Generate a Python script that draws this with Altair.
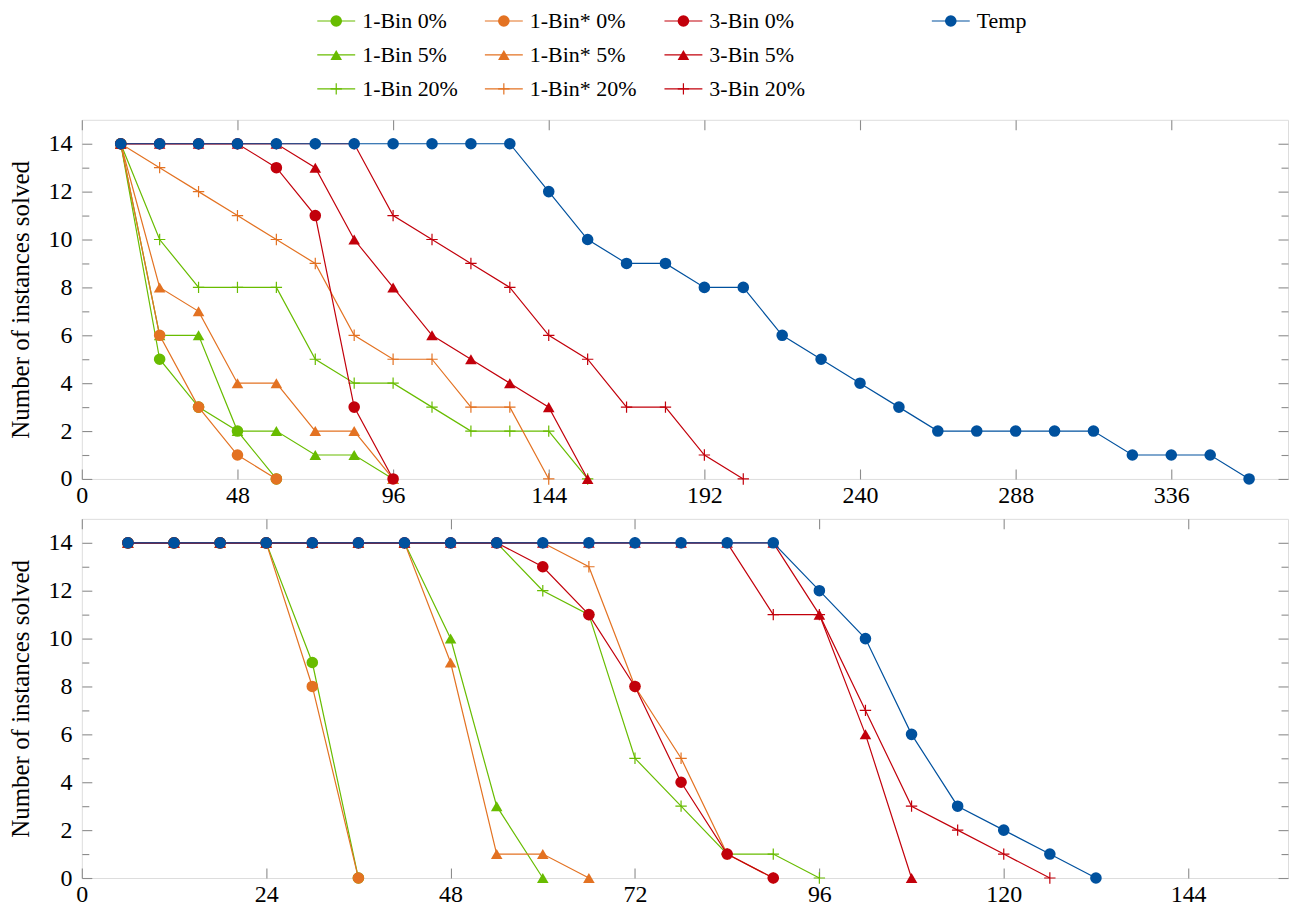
import altair as alt
import pandas as pd

# ---------------- data ----------------
SERIES = ["1-Bin 0%", "1-Bin 5%", "1-Bin 20%",
          "1-Bin* 0%", "1-Bin* 5%", "1-Bin* 20%",
          "3-Bin 0%", "3-Bin 5%", "3-Bin 20%", "Temp"]

TOP_X = [12, 24, 36, 48, 60, 72, 84, 96, 108, 120, 132, 144, 156, 168, 180,
         192, 204, 216, 228, 240, 252, 264, 276, 288, 300, 312, 324, 336, 348, 360]
BOTTOM_X = [6, 12, 18, 24, 30, 36, 42, 48, 54, 60, 66, 72, 78, 84, 90,
            96, 102, 108, 114, 120, 126, 132]

TOP_X_TICKS = [0, 48, 96, 144, 192, 240, 288, 336]
BOTTOM_X_TICKS = [0, 24, 48, 72, 96, 120, 144]
Y_MAJOR = [0, 2, 4, 6, 8, 10, 12, 14]
Y_MINOR = [1, 3, 5, 7, 9, 11, 13]

# top panel (values at TOP_X, from the first point on)
top_1bin_0 = [14, 5, 3, 2, 0]
top_1bin_5 = [14, 6, 6, 2, 2, 1, 1, 0]
top_1bin_20 = [14, 10, 8, 8, 8, 5, 4, 4, 3, 2, 2, 2, 0]
top_1bins_0 = [14, 6, 3, 1, 0]
top_1bins_5 = [14, 8, 7, 4, 4, 2, 2, 0]
top_1bins_20 = [14, 13, 12, 11, 10, 9, 6, 5, 5, 3, 3, 0]
top_3bin_0 = [14, 14, 14, 14, 13, 11, 3, 0]
top_3bin_5 = [14, 14, 14, 14, 14, 13, 10, 8, 6, 5, 4, 3, 0]
top_3bin_20 = [14, 14, 14, 14, 14, 14, 14, 11, 10, 9, 8, 6, 5, 3, 3, 1, 0]
top_temp = [14, 14, 14, 14, 14, 14, 14, 14, 14, 14, 14, 12, 10, 9, 9, 8, 8,
            6, 5, 4, 3, 2, 2, 2, 2, 2, 1, 1, 1, 0]

# bottom panel (values at BOTTOM_X, from the first point on)
bot_1bin_0 = [14, 14, 14, 14, 9, 0]
bot_1bin_5 = [14, 14, 14, 14, 14, 14, 14, 10, 3, 0]
bot_1bin_20 = [14, 14, 14, 14, 14, 14, 14, 14, 14, 12, 11, 5, 3, 1, 1, 0]
bot_1bins_0 = [14, 14, 14, 14, 8, 0]
bot_1bins_5 = [14, 14, 14, 14, 14, 14, 14, 9, 1, 1, 0]
bot_1bins_20 = [14, 14, 14, 14, 14, 14, 14, 14, 14, 14, 13, 8, 5, 1, 0]
bot_3bin_0 = [14, 14, 14, 14, 14, 14, 14, 14, 14, 13, 11, 8, 4, 1, 0]
bot_3bin_5 = [14, 14, 14, 14, 14, 14, 14, 14, 14, 14, 14, 14, 14, 14, 14, 11, 6, 0]
bot_3bin_20 = [14, 14, 14, 14, 14, 14, 14, 14, 14, 14, 14, 14, 14, 14, 11, 11, 7, 3, 2, 1, 0]
bot_temp = [14, 14, 14, 14, 14, 14, 14, 14, 14, 14, 14, 14, 14, 14, 14,
            12, 10, 6, 3, 2, 1, 0]

TOP_VALUES = dict(zip(SERIES, [top_1bin_0, top_1bin_5, top_1bin_20,
                               top_1bins_0, top_1bins_5, top_1bins_20,
                               top_3bin_0, top_3bin_5, top_3bin_20, top_temp]))
BOT_VALUES = dict(zip(SERIES, [bot_1bin_0, bot_1bin_5, bot_1bin_20,
                               bot_1bins_0, bot_1bins_5, bot_1bins_20,
                               bot_3bin_0, bot_3bin_5, bot_3bin_20, bot_temp]))

# ---------------- style ----------------
FONT = "'Liberation Serif', 'Times New Roman', Times, serif"
GREEN, ORANGE, RED, BLUE = "#68BC00", "#E37222", "#C2000B", "#00519E"
COLOR = dict(zip(SERIES, [GREEN] * 3 + [ORANGE] * 3 + [RED] * 3 + [BLUE]))
PLUS = "M-1,0H1M0,-1V1"
SHAPE = dict(zip(SERIES, ["circle", "triangle-up", PLUS] * 3 + ["circle"]))
SIZE = {"circle": 135, "triangle-up": 135, PLUS: 130}
TICK = "#8c8c8c"
W, H = 1209, 360

# legend layout (pixels inside the legend strip)
LEGEND_COL_X = [236, 404, 584, 852]
LEGEND_ROW_Y = [11, 45, 79]
LEGEND_POS = dict(zip(SERIES, [(0, 0), (0, 1), (0, 2), (1, 0), (1, 1), (1, 2),
                               (2, 0), (2, 1), (2, 2), (3, 0)]))


def axis_set(kind):
    common = dict(domain=False, grid=False, tickColor=TICK, tickWidth=1.1,
                  labelFont=FONT, labelFontSize=24, labelColor="black")
    if kind == "bottom":
        return alt.Axis(orient="bottom", offset=-10, tickSize=10, labelPadding=5,
                        labelFlush=False, labelOverlap=False, title=None, **common)
    if kind == "top":
        return alt.Axis(orient="top", offset=-10, tickSize=10, labels=False,
                        title=None, **common)
    if kind == "left_major":
        return alt.Axis(orient="left", values=Y_MAJOR, offset=-10, tickSize=10,
                        labelPadding=10, title="Number of instances solved",
                        titleFont=FONT, titleFontSize=25, titleFontWeight="normal",
                        titleColor="black", titlePadding=14, **common)
    if kind == "left_minor":
        return alt.Axis(orient="left", values=Y_MINOR, offset=-7, tickSize=7,
                        labels=False, title=None, **common)
    if kind == "right_major":
        return alt.Axis(orient="right", values=Y_MAJOR, offset=-10, tickSize=10,
                        labels=False, title=None, **common)
    return alt.Axis(orient="right", values=Y_MINOR, offset=-7, tickSize=7,
                    labels=False, title=None, **common)


def panel(xs, values, x_max, x_ticks):
    xscale = alt.Scale(domain=[0, x_max], nice=False, zero=False)
    yscale = alt.Scale(domain=[0, 15], nice=False)
    axes_plan = {0: ("bottom", "left_major"), 1: ("top", "left_minor"),
                 2: (None, "right_major"), 3: (None, "right_minor")}
    layers = []
    for i, name in enumerate(SERIES):
        ys = values[name]
        df = pd.DataFrame({"x": xs[:len(ys)], "y": ys})
        xk, yk = axes_plan.get(i, (None, None))
        if xk is not None:
            xax = axis_set(xk)
            xax.values = x_ticks
        else:
            xax = None
        yax = axis_set(yk) if yk is not None else None
        line = alt.Chart(df).mark_line(color=COLOR[name], strokeWidth=1.2).encode(
            x=alt.X("x:Q", scale=xscale, axis=xax),
            y=alt.Y("y:Q", scale=yscale, axis=yax),
        )
        shp = SHAPE[name]
        filled = shp != PLUS
        pts = alt.Chart(df).mark_point(
            shape=shp, filled=filled, size=SIZE[shp], color=COLOR[name],
            opacity=1, strokeWidth=1.2,
        ).encode(
            x=alt.X("x:Q", scale=xscale, axis=None),
            y=alt.Y("y:Q", scale=yscale, axis=None),
        )
        layers += [line, pts]
    return alt.layer(*layers).resolve_axis(x="independent", y="independent").properties(
        width=W, height=H)


def legend_strip():
    lx = alt.Scale(domain=[0, W], nice=False, zero=False)
    ly = alt.Scale(domain=[70, 0], nice=False, zero=False)
    layers = []
    for name in SERIES:
        c, r = LEGEND_POS[name]
        x0 = LEGEND_COL_X[c]
        df = pd.DataFrame({"x0": [x0], "x1": [x0 + 38], "xm": [x0 + 19],
                           "xt": [x0 + 45], "y": [LEGEND_ROW_Y[r]], "label": [name]})
        rule = alt.Chart(df).mark_rule(color=COLOR[name], strokeWidth=1.2).encode(
            x=alt.X("x0:Q", scale=lx, axis=None), x2="x1:Q",
            y=alt.Y("y:Q", scale=ly, axis=None))
        shp = SHAPE[name]
        pt = alt.Chart(df).mark_point(
            shape=shp, filled=shp != PLUS, size=SIZE[shp], color=COLOR[name],
            opacity=1, strokeWidth=1.2).encode(
            x=alt.X("xm:Q", scale=lx, axis=None), y=alt.Y("y:Q", scale=ly, axis=None))
        txt = alt.Chart(df).mark_text(align="left", baseline="middle", font=FONT,
                                      fontSize=22, color="black").encode(
            x=alt.X("xt:Q", scale=lx, axis=None), y=alt.Y("y:Q", scale=ly, axis=None),
            text="label:N")
        layers += [rule, pt, txt]
    return alt.layer(*layers).properties(
        width=W, height=70, view=alt.ViewBackground(stroke="transparent"))


top = panel(TOP_X, TOP_VALUES, 372, TOP_X_TICKS)
bottom = panel(BOTTOM_X, BOT_VALUES, 157, BOTTOM_X_TICKS)

chart = alt.vconcat(legend_strip(), top, bottom, spacing=40, bounds="flush").properties(
    padding={"left": 0, "top": 0, "right": 0, "bottom": 0}
).configure_view(stroke="#222222", strokeWidth=1.3).configure(font=FONT, background="white")

chart.save("out.html", embed_options={"renderer": "svg", "actions": False})
